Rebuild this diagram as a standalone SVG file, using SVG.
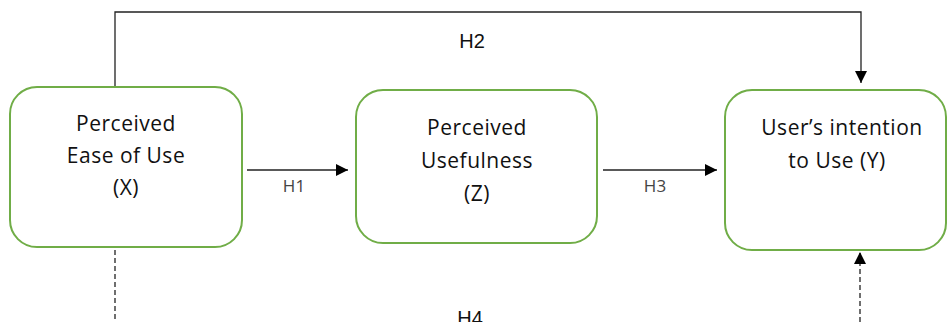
<svg xmlns="http://www.w3.org/2000/svg" width="947" height="322" viewBox="0 0 947 322">
<style>
.box{fill:#ffffff;stroke:#70AD47;stroke-width:2}
.nt{font-family:"Open Sans","Liberation Sans",sans-serif;font-size:21px;fill:#111;text-anchor:middle;letter-spacing:0.5px}
.el{font-family:"Open Sans","Liberation Sans",sans-serif;font-size:17px;fill:#444;text-anchor:middle}
.hl{font-family:"Liberation Sans",Arial,sans-serif;font-size:20px;fill:#111;text-anchor:middle}
.ln{fill:none;stroke:#222;stroke-width:1.3}
.dash{fill:none;stroke:#222;stroke-width:1.3;stroke-dasharray:5,3}
</style>
<defs>
<marker id="ah" viewBox="0 0 12 12" refX="12" refY="6" markerWidth="12" markerHeight="12" markerUnits="userSpaceOnUse" orient="auto">
<path d="M0,0 L12,6 L0,12 Z" fill="#000"/>
</marker>
</defs>
<rect width="947" height="322" fill="#ffffff"/>
<g id="connectors">
<path class="ln" d="M115,87 V12 H861 V83" marker-end="url(#ah)"/>
<path class="ln" d="M247,170 H348" marker-end="url(#ah)"/>
<path class="ln" d="M603,170 H717" marker-end="url(#ah)"/>
<path class="dash" d="M115,250 V322"/>
<path class="dash" d="M860,322 V252" marker-end="url(#ah)"/>
<text class="hl" x="472" y="48">H2</text>
<text class="el" x="294" y="192">H1</text>
<text class="el" x="655" y="192">H3</text>
<text class="hl" x="470" y="325">H4</text>
</g>
<g id="node-x">
<rect class="box" x="10" y="87" width="232" height="160" rx="27" ry="27"/>
<text class="nt" x="126" y="131">Perceived</text>
<text class="nt" x="126" y="163">Ease of Use</text>
<text class="nt" x="126" y="195">(X)</text>
</g>
<g id="node-z">
<rect class="box" x="356" y="90" width="241" height="153" rx="27" ry="27"/>
<text class="nt" x="477" y="135">Perceived</text>
<text class="nt" x="477" y="168">Usefulness</text>
<text class="nt" x="477" y="201">(Z)</text>
</g>
<g id="node-y">
<rect class="box" x="725" y="90" width="221" height="160" rx="27" ry="27"/>
<text class="nt" x="842" y="135">User’s intention</text>
<text class="nt" x="837" y="168">to Use (Y)</text>
</g>
</svg>
